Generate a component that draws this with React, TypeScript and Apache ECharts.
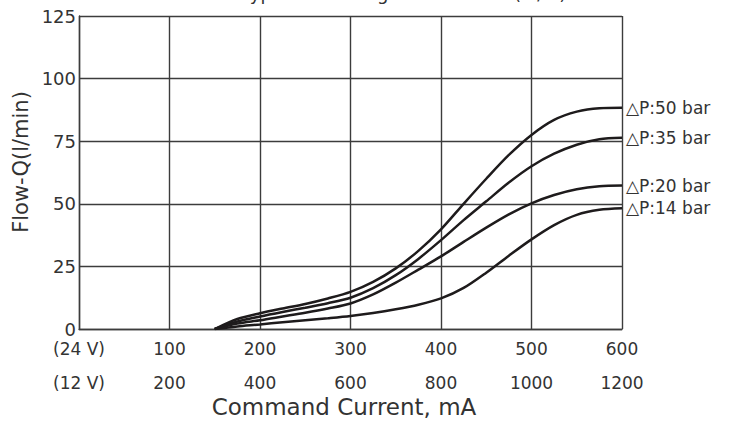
import React, { useEffect, useRef } from "react";
import * as echarts from "echarts";

const currentPoints = [150, 175, 200, 225, 250, 275, 300, 325, 350, 375, 400, 425, 450, 475, 500, 525, 550, 575, 600];
const flow50bar = [0, 4.0, 6.3, 8.2, 10, 12.2, 14.8, 18.8, 24.2, 31.2, 39.8, 50, 60, 69.5, 77.5, 83.5, 86.8, 88.2, 88.4];
const flow35bar = [0, 3.0, 5.0, 6.8, 8.5, 10.3, 12.5, 16.3, 21.5, 28, 35.5, 43.5, 51, 58.5, 65, 70, 73.6, 75.8, 76.4];
const flow20bar = [0, 2.2, 3.5, 5.0, 6.5, 8.2, 10.2, 13.8, 18.5, 23.7, 29, 34.8, 40.5, 45.8, 50.2, 53.5, 55.8, 57, 57.3];
const flow14bar = [0, 1.0, 1.8, 2.7, 3.5, 4.3, 5.2, 6.4, 7.9, 9.7, 12.2, 16.4, 22.5, 29.3, 35.8, 41.5, 45.6, 47.6, 48.2];
const seriesLabels = ["△P:50 bar", "△P:35 bar", "△P:20 bar", "△P:14 bar"];

const xTicks = [0, 100, 200, 300, 400, 500, 600];
const labels24V = ["(24 V)", "100", "200", "300", "400", "500", "600"];
const labels12V = ["(12 V)", "200", "400", "600", "800", "1000", "1200"];
const yTicks = [0, 25, 50, 75, 100, 125];

const FONT = "DejaVu Sans";
const TEXT = "#333333";
const GRID = "#3c3c3c";

export default function App() {
  const ref = useRef<HTMLDivElement>(null);
  useEffect(() => {
    if (!ref.current) return;
    const chart = echarts.init(ref.current, undefined, { renderer: "svg" });
    const allFlows = [flow50bar, flow35bar, flow20bar, flow14bar];
    chart.setOption({
      animation: false,
      grid: { left: 79, right: 111, top: 16, bottom: 94 },
      xAxis: {
        type: "value",
        min: xTicks[0],
        max: xTicks[xTicks.length - 1],
        interval: 100,
        axisLine: { show: true, lineStyle: { color: GRID, width: 1.4 } },
        axisTick: { show: false },
        splitLine: { show: true, lineStyle: { color: GRID, width: 1.4 } },
        axisLabel: {
          showMinLabel: true,
          showMaxLabel: true,
          margin: 3,
          fontFamily: FONT,
          fontSize: 17,
          lineHeight: 34,
          color: TEXT,
          formatter: (v: number) => {
            const i = xTicks.indexOf(v);
            return i < 0 ? "" : labels24V[i] + "\n" + labels12V[i];
          },
        },
      },
      yAxis: {
        type: "value",
        min: yTicks[0],
        max: yTicks[yTicks.length - 1],
        interval: 25,
        axisLine: { show: true, lineStyle: { color: GRID, width: 1.4 } },
        axisTick: { show: false },
        splitLine: { show: true, lineStyle: { color: GRID, width: 1.4 } },
        axisLabel: {
          showMinLabel: true,
          showMaxLabel: true,
          margin: 3,
          fontFamily: FONT,
          fontSize: 18,
          color: TEXT,
        },
      },
      series: allFlows.map((flows, k) => ({
        type: "line",
        name: seriesLabels[k],
        data: currentPoints.map((c, i) => [c, flows[i]]),
        smooth: 0.3,
        showSymbol: false,
        symbol: "none",
        lineStyle: { color: "#1e1b1c", width: 2.5 },
        endLabel: {
          show: true,
          formatter: () => seriesLabels[k],
          fontFamily: FONT,
          fontSize: 17,
          color: TEXT,
          distance: 4,
        },
      })),
      graphic: [
        {
          type: "text",
          x: 404,
          y: 2,
          style: {
            text: "Typical Metering Performance (①/②)",
            font: `18px '${FONT}'`,
            fill: TEXT,
            textAlign: "center",
            textVerticalAlign: "bottom",
          },
        },
        {
          type: "text",
          x: 21,
          y: 162,
          rotation: Math.PI / 2,
          style: {
            text: "Flow-Q(l/min)",
            font: `21px '${FONT}'`,
            fill: TEXT,
            textAlign: "center",
            textVerticalAlign: "middle",
          },
        },
        {
          type: "text",
          x: 344,
          y: 407,
          style: {
            text: "Command Current, mA",
            font: `23px '${FONT}'`,
            fill: TEXT,
            textAlign: "center",
            textVerticalAlign: "middle",
          },
        },
      ],
    });
    return () => chart.dispose();
  }, []);
  return (
    <div
      ref={ref}
      style={{ position: "fixed", left: 0, top: 0, width: 733, height: 423, background: "#fff" }}
    />
  );
}
